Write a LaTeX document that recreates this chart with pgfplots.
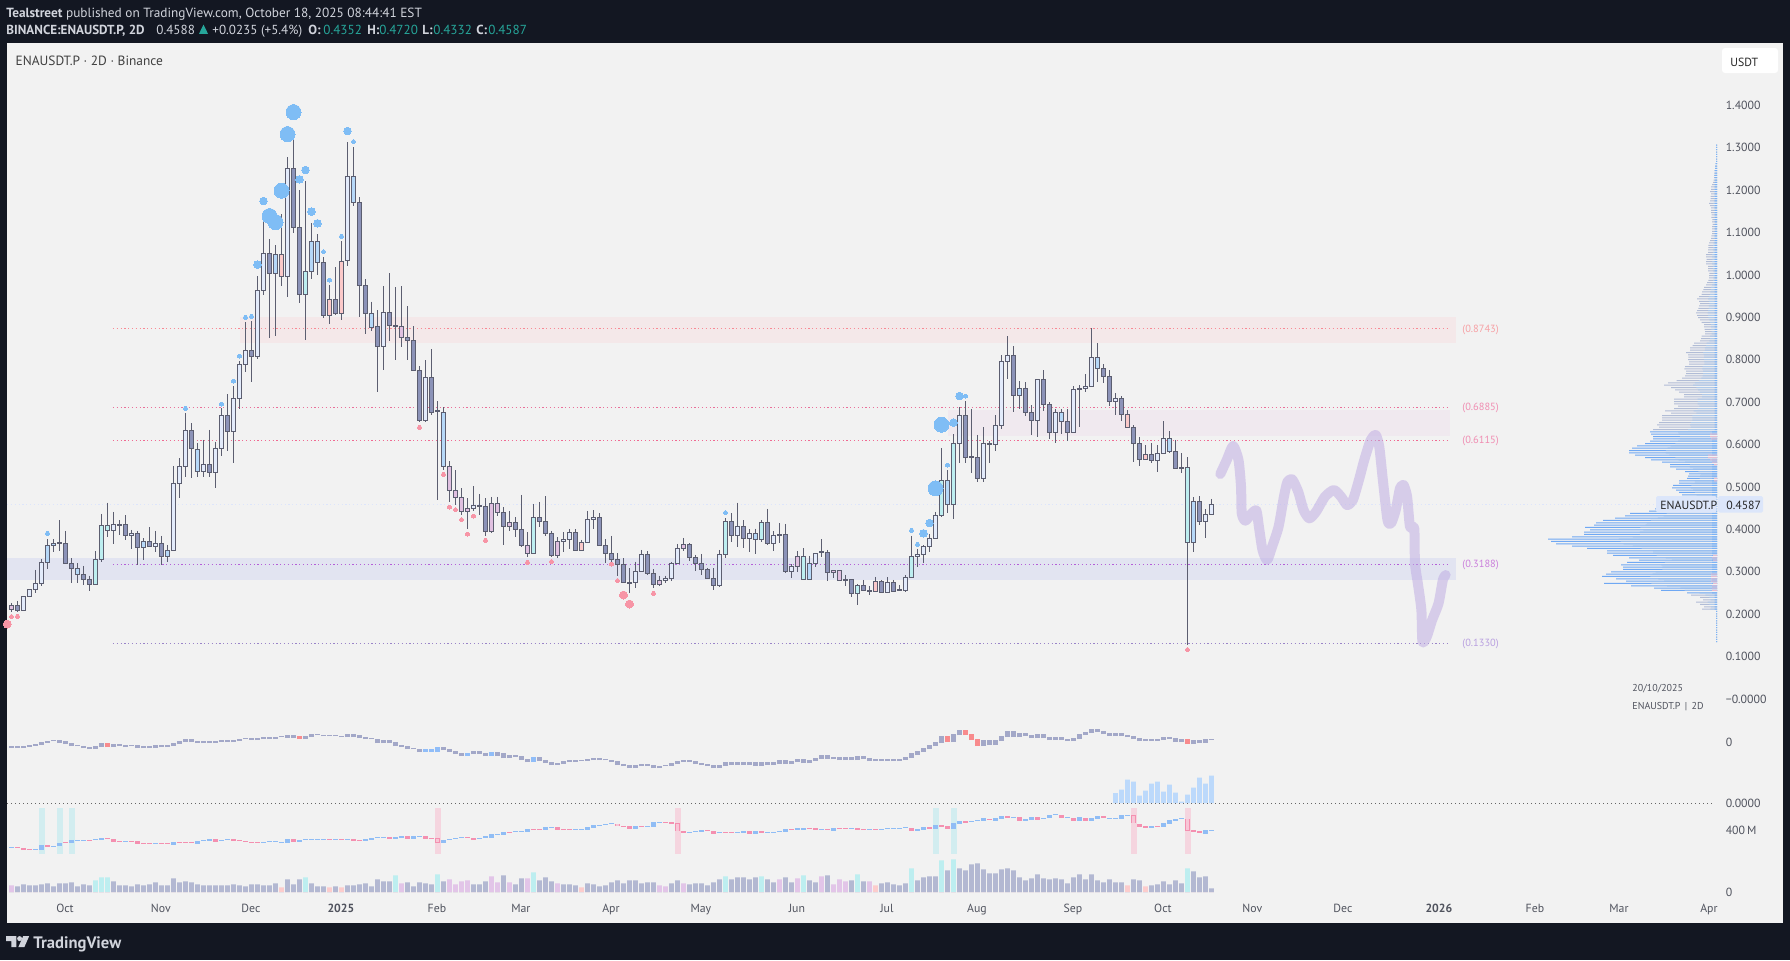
\documentclass[border=0pt]{standalone}
\usepackage{fontspec}
\setmainfont{PT Sans}
\usepackage{pgfplots}
\usepackage{pgfplotstable}
\pgfplotsset{compat=1.18}
\definecolor{bg}{HTML}{131722}
\definecolor{panel}{HTML}{F2F2F2}
\definecolor{cW}{HTML}{E3EBFB}
\definecolor{cB}{HTML}{B6D8F8}
\definecolor{cD}{HTML}{8C93B8}
\definecolor{cT}{HTML}{BDEEF0}
\definecolor{cR}{HTML}{FBC9C9}
\definecolor{cP}{HTML}{E0C0E0}
\definecolor{edge}{HTML}{5C5E70}
\definecolor{bub}{HTML}{7FBDF5}
\definecolor{pinkb}{HTML}{F795A6}
\definecolor{txt}{HTML}{50535E}
\definecolor{hdr}{HTML}{D1D4DC}
\definecolor{tealh}{HTML}{26A69A}
\definecolor{stroke}{HTML}{BCA8E2}
\definecolor{t1}{HTML}{F7A0A4}\definecolor{t2}{HTML}{F08DB2}\definecolor{t3}{HTML}{CB80DC}\definecolor{t4}{HTML}{B9A0E0}
\newcommand\fs[1]{\fontsize{#1}{#1}\selectfont}
\newcommand\tx[5]{\node[anchor=base west,inner sep=0pt,text=#3,font=#4] at ({#1*0.5pt},{-#2*0.5pt}) {#5};}
\pgfplotsset{
 pane/.style={scale only axis,width=855pt,xmin=-0.75,xmax=284.25,clip=true,
   axis line style={draw=none},major tick length=0pt,xtick=\empty,
   ytick pos=right,yticklabel pos=right,
   yticklabel style={anchor=west,inner sep=0pt,xshift=4.2pt,font=\fs{5.9},text=txt},
   every axis plot/.append style={forget plot}},
 wick/.style={draw=edge,line width=0.55pt,no markers},
 body/.style={draw=edge,line width=0.65pt,no markers},
 lev/.style={line width=0.55pt,no markers,dash pattern=on 0.6pt off 1.3pt},
 bubs/.style={only marks,color=bub,mark=*,mark size=#1,mark options={fill=bub,draw=bub,line width=0pt}},
 bubp/.style={only marks,color=pinkb,mark=*,mark size=#1,mark options={fill=pinkb,draw=pinkb,line width=0pt}},
}
\pgfplotstableread{
i o h l c k
0 .2202 .2265 .2061 .2108 P
1 .2202 .2312 .2053 .2084 D
2 .2084 .2423 .2069 .2423 W
3 .2423 .2588 .2423 .2588 W
4 .2588 .3043 .2509 .2721 W
5 .2721 .3303 .2666 .3224 W
6 .3224 .3774 .3067 .3625 B
7 .3617 .3774 .3476 .3672 B
8 .3696 .4222 .3499 .3680 D
9 .3672 .3963 .3201 .3201 D
10 .3201 .3319 .2737 .3083 D
11 .2941 .3201 .2737 .3083 B
12 .2941 .3138 .2690 .2823 D
13 .2823 .2910 .2548 .2705 D
14 .2705 .3491 .2705 .3295 T
15 .3295 .4364 .3240 .4097 T
16 .3971 .4631 .3829 .4097 T
17 .3979 .4411 .3657 .4120 W
18 .4120 .4222 .3869 .4105 D
19 .4120 .4340 .3751 .3861 D
20 .3853 .3987 .3546 .3908 W
21 .3908 .3963 .3161 .3578 D
22 .3578 .3790 .3279 .3719 B
23 .3719 .4049 .3578 .3601 D
24 .3601 .3963 .3476 .3672 W
25 .3672 .3845 .3161 .3366 D
26 .3366 .3633 .3240 .3507 B
27 .3507 .5488 .3507 .5087 W
28 .5087 .5677 .4741 .5488 W
29 .5488 .6738 .5244 .6337 W
30 .6337 .6502 .5221 .5912 D
31 .5370 .6030 .5244 .5889 B
32 .5370 .6109 .5244 .5535 W
33 .5535 .6345 .5244 .5346 D
34 .5346 .6070 .4977 .5912 W
35 .5912 .6856 .5739 .6690 W
36 .6690 .7186 .5857 .6313 D
37 .6313 .7374 .5574 .7091 W
38 .7091 .7972 .6848 .7893 W
39 .7893 .8883 .7720 .8223 W
40 .8223 .8915 .7484 .8082 D
41 .8074 .9976 .8027 .9630 W
42 .9630 1.1485 .9536 1.0510 W
43 1.0510 1.0848 .8522 1.0039 D
44 1.0039 1.0707 .8561 1.0487 B
45 1.0487 1.1430 .9748 .9968 R
46 .9968 1.2774 .9489 1.2515 W
47 1.2515 1.3301 1.0998 1.1123 D
48 1.1123 1.2004 .9347 .9544 D
49 .9544 1.2216 .8467 1.0086 T
50 1.0086 1.1218 .9913 1.0793 B
51 1.0298 1.0966 1.0007 1.0793 B
52 1.0298 1.0424 .8993 .9048 D
53 .9426 .9764 .8844 .9048 R
54 .9426 1.0188 .9056 .9088 D
55 1.0322 1.0801 .8946 .9088 R
56 1.0345 1.3128 1.0212 1.2326 W
57 1.1713 1.3018 1.1634 1.2326 B
58 1.1713 1.1831 .9017 .9748 D
59 .9756 .9905 .8608 .9096 D
60 .8765 .9371 .8687 .9096 B
61 .8789 .9174 .7249 .8317 D
62 .8317 .9740 .7759 .9119 W
63 .9119 1.0039 .8443 .8813 D
64 .8813 .9709 .7995 .8781 D
65 .8789 .9740 .8310 .8530 P
66 .8530 .9269 .7995 .8459 D
67 .8459 .8797 .7752 .7752 D
68 .7752 .7854 .6525 .6573 D
69 .6573 .7995 .6541 .7587 W
70 .7587 .8247 .6706 .6753 D
71 .6793 .7028 .4694 .6777 D
72 .5488 .6879 .5401 .6761 B
73 .5488 .5606 .4647 .4922 P
74 .4922 .5401 .4584 .4757 P
75 .4757 .4971 .4340 .4419 P
76 .4498 .4741 .4018 .4419 P
77 .4490 .5024 .4427 .4568 W
78 .4568 .4835 .4348 .4553 D
79 .4545 .4733 .3845 .3955 D
80 .4615 .4765 .3924 .3955 P
81 .4615 .4765 .4325 .4403 P
82 .4403 .4521 .3633 .4073 D
83 .4167 .4435 .3971 .4073 P
84 .4167 .4285 .3829 .4002 D
85 .4002 .4812 .3594 .3625 D
86 .3625 .3939 .3358 .3436 P
87 .3436 .4600 .3436 .4285 T
88 .4285 .4647 .4065 .4191 D
89 .4191 .4788 .3845 .3908 D
90 .3908 .3963 .3342 .3381 D
91 .3719 .3814 .3326 .3381 P
92 .3719 .3932 .3476 .3767 W
93 .3767 .4010 .3531 .3932 W
94 .3932 .4002 .3499 .3507 D
95 .3696 .3751 .3499 .3507 R
96 .3696 .4435 .3696 .4238 W
97 .4238 .4458 .4018 .4285 W
98 .4285 .4380 .3609 .3625 D
99 .3625 .3774 .3201 .3436 D
100 .3436 .3845 .3201 .3295 D
101 .3295 .3436 .2902 .3177 D
102 .3177 .3319 .2729 .2745 D
103 .2753 .3083 .2509 .2737 D
104 .2745 .3240 .2619 .3012 W
105 .3012 .3515 .3004 .3413 W
106 .3413 .3484 .2933 .2957 D
107 .2957 .3059 .2619 .2705 D
108 .2800 .2910 .2666 .2705 P
109 .2800 .2910 .2745 .2839 W
110 .2839 .3232 .2792 .3201 W
111 .3201 .3657 .3201 .3554 W
112 .3649 .3798 .3499 .3554 P
113 .3649 .3672 .3263 .3342 D
114 .3342 .3397 .3028 .3201 D
115 .3201 .3421 .2918 .3059 D
116 .3059 .3091 .2839 .2847 D
117 .2847 .3083 .2572 .2674 D
118 .2674 .3515 .2635 .3413 W
119 .3413 .4262 .3334 .4191 T
120 .4191 .4380 .3712 .3853 D
121 .3853 .4631 .3586 .4073 W
122 .4073 .4222 .3570 .3790 D
123 .3790 .4002 .3468 .3908 W
124 .3759 .4018 .3421 .3908 B
125 .3759 .4222 .3696 .4167 T
126 .4167 .4482 .3633 .3664 D
127 .3664 .3955 .3499 .3861 W
128 .3884 .4144 .3672 .3861 D
129 .3884 .4128 .2981 .3004 D
130 .3012 .3177 .2855 .3130 W
131 .3366 .3484 .3004 .3130 P
132 .2823 .3554 .2823 .3366 T
133 .2823 .3374 .2823 .3201 B
134 .3201 .3436 .3122 .3436 W
135 .3468 .3774 .3358 .3452 D
136 .3460 .3515 .2792 .2988 D
137 .3036 .3036 .2855 .2988 P
138 .3036 .3036 .2776 .2800 P
139 .2823 .2926 .2666 .2800 D
140 .2823 .2823 .2415 .2493 D
141 .2493 .2713 .2226 .2682 T
142 .2682 .2808 .2548 .2564 D
143 .2564 .2666 .2454 .2540 D
144 .2776 .2878 .2525 .2540 R
145 .2776 .2808 .2509 .2517 D
146 .2517 .2870 .2509 .2753 W
147 .2753 .2808 .2517 .2540 D
148 .2572 .2690 .2540 .2556 D
149 .2564 .2918 .2532 .2870 W
150 .2870 .3845 .2870 .3366 T
151 .3366 .3539 .3122 .3413 W
152 .3413 .3625 .3209 .3601 W
153 .3601 .3892 .3476 .3790 W
154 .3782 .4411 .3767 .4332 W
155 .4332 .5912 .4285 .5158 T
156 .4592 .5401 .4395 .5158 B
157 .4592 .6250 .4254 .6030 T
158 .6030 .6887 .5559 .6690 W
159 .6690 .7021 .5574 .5700 D
160 .5708 .6832 .5339 .5692 D
161 .5700 .6227 .5126 .5205 D
162 .5205 .6415 .5126 .6030 W
163 .6022 .6085 .5574 .6007 D
164 .6007 .6698 .5857 .6455 W
165 .6455 .8105 .6376 .7964 W
166 .7964 .8561 .7555 .8105 W
167 .8105 .8325 .6777 .7162 D
168 .7162 .7500 .6848 .7327 B
169 .7327 .7469 .6683 .6761 D
170 .6761 .6926 .6235 .6573 D
171 .6573 .7539 .6187 .7539 W
172 .7539 .7759 .6793 .6950 D
173 .6950 .6997 .6140 .6290 D
174 .6290 .6832 .6046 .6761 W
175 .6549 .6840 .6258 .6761 B
176 .6549 .6832 .6093 .6290 D
177 .6290 .7374 .6290 .7304 W
178 .7311 .7406 .6423 .7296 D
179 .7319 .7665 .7249 .7366 W
180 .7374 .8742 .7374 .8058 W
181 .7799 .8396 .7484 .8058 B
182 .7799 .7893 .7461 .7610 D
183 .7610 .7759 .6911 .7021 D
184 .7021 .7217 .6706 .7091 W
185 .7091 .7146 .6565 .6714 D
186 .6714 .6808 .6408 .6408 R
187 .6408 .6455 .5598 .6030 D
188 .6030 .6180 .5504 .5653 D
189 .5771 .5991 .5637 .5653 R
190 .5771 .6030 .5574 .5621 D
191 .5629 .5983 .5362 .5794 W
192 .5794 .6549 .5794 .6148 W
193 .5834 .6321 .5810 .6148 B
194 .5842 .6109 .5441 .5441 D
195 .5464 .5794 .5339 .5449 D
196 .3696 .5700 .1283 .5464 T
197 .3696 .4757 .3476 .4663 B
198 .4663 .4788 .4112 .4191 D
199 .4191 .4474 .3806 .4356 W
200 .4352 .4720 .4332 .4587 W
}\cand
\pgfplotstableread{
p L
1.3066 1
1.3011 1
1.2956 1
1.2901 1
1.2846 1
1.2791 1
1.2736 1
1.2681 1
1.2626 1.3
1.2571 2
1.2516 2
1.2461 2.3
1.2406 2.7
1.2351 3
1.2296 3
1.2241 3.3
1.2186 4
1.2131 5
1.2076 6
1.2021 6
1.1966 7
1.1911 6
1.1856 6.3
1.1801 6.3
1.1746 7
1.1691 8
1.1636 7
1.1581 6
1.1526 6
1.1471 6
1.1416 5.3
1.1361 5.7
1.1306 4.7
1.1251 5
1.1196 4.3
1.1141 5
1.1086 5
1.1031 5
1.0976 5
1.0921 5.7
1.0866 6
1.0811 7
1.0756 8
1.0701 8.7
1.0646 8.7
1.0591 9
1.0536 9
1.0481 11
1.0426 11
1.0371 10.3
1.0316 11
1.0261 11
1.0206 9
1.0151 9
1.0096 9
1.0041 7.7
.9986 8
.9931 8
.9876 8.7
.9821 10
.9766 11
.9711 13
.9656 13.7
.9601 15
.9546 15.3
.9491 18
.9436 20
.9381 18
.9326 17
.9271 18
.9216 18.7
.9161 20
.9106 21
.9051 20
.8996 19
.8941 17
.8886 15.3
.8831 13
.8776 13
.8721 12.3
.8666 12
.8611 12
.8556 15.3
.8501 16
.8446 17
.8391 23
.8336 24.3
.8281 27
.8226 27
.8171 31
.8116 29
.8061 28.7
.8006 29
.7951 28
.7896 28
.7841 32
.7786 32.7
.7731 31
.7676 31
.7621 32
.7566 35
.7511 40.3
.7456 49
.7401 53
.7346 46
.7291 42
.7236 38
.7181 33
.7126 33
.7071 43
.7016 43
.6961 43
.6906 39
.6851 43
.6796 52
.6741 46
.6686 55
.6631 55
.6576 55
.6521 58
.6466 60
.6411 58
.6356 64
.2451 26
.2396 17
.2341 14
.2286 21
.2231 17
.2176 13
.2121 15
.2066 1
.2011 1
.1956 1
.1901 1
.1846 1
.1791 1
.1736 1
.1681 1
.1626 1
.1571 1
.1516 1
.1461 1
.1406 1
.1351 1
}\profU
\pgfplotstableread{
p L
.6301 67
.6246 66
.6191 64
.6136 64
.6081 67
.6026 72
.5971 80
.5916 85
.5861 88
.5806 88
.5751 82
.5696 72
.5641 66
.5586 55
.5531 47
.5476 47
.5421 41
.5366 32
.5311 28
.5256 29
.5201 30
.5146 38
.5091 38
.5036 44
.4981 45
.4926 41
.4871 38
.4816 35
.4761 35
.4706 33
.4651 40
.4596 40
.4541 40
.4486 62
.4431 68
.4376 87
.4321 92
.4266 102
.4211 114
.4156 121
.4101 123
.4046 132
.3991 127
.3936 133
.3881 133
.3826 145
.3771 169
.3716 166
.3661 161
.3606 145
.3551 130
.3496 110
.3441 110
.3386 104
.3331 88
.3276 78
.3221 90
.3166 96
.3111 94
.3056 94
.3001 106
.2946 111
.2891 115
.2836 101
.2781 91
.2726 113
.2671 86
.2616 63
.2561 56
.2506 30
}\profL
\pgfplotstableread{
i top bot k
0 -4 -6 0
1 -4 -6 0
2 -4 -6 0
3 -3.3 -5 0
4 -2 -3.7 0
5 0 -3 0
6 1 -0.7 0
7 2 1 0
8 2 -1 0
9 1 -2 0
10 -1 -4 0
11 -3 -4 0
12 -4 -6 0
13 -5 -7 0
14 -4 -7 0
15 -1 -5 0
16 -1 -5 1
17 -2 -5 0
18 -2 -4 0
19 -3 -5 0
20 -3 -4 0
21 -3 -6 0
22 -4 -6 0
23 -4 -6 0
24 -3 -6 0
25 -3 -5.3 0
26 -3 -5 0
27 -1 -4 0
28 1 -2 0
29 3 0 0
30 3 0 0
31 1 -1 0
32 1 -1 0
33 1 -1 0
34 1 -1 0
35 2 0 0
36 2 0 0
37 2 0 0
38 3 1 0
39 4 3 0
40 4 2.3 0
41 4 2 0
42 5 3 0
43 5 3 0
44 5 3 0
45 6 5 0
46 7 4.3 0
47 7.3 4.3 0
48 6 3 1
49 6 3 0
50 8 5 0
51 8 7 0
52 7 6 0
53 7 6 0
54 7 6 0
55 6 5 0
56 8 5 0
57 8 5 0
58 7 4 0
59 5 3 0
60 4 3 0
61 3 -1 0
62 2 -1 0
63 2 -1 0
64 0 -4 0
65 -3 -5 0
66 -4 -7 0
67 -6 -7 0
68 -7 -10 0
69 -7 -10 2
70 -7 -10 2
71 -5 -10 2
72 -5 -8 0
73 -7 -10 0
74 -9 -12 0
75 -11 -14 0
76 -11 -14 2
77 -9 -12 0
78 -9 -12 0
79 -11 -14 0
80 -10 -14 2
81 -10 -14 0
82 -11 -16 0
83 -13 -16 0
84 -13 -15 0
85 -14 -18 0
86 -17 -20 0
87 -15 -20 2
88 -15 -19 0
89 -18 -21 0
90 -20 -23 0
91 -21 -23 0
92 -19 -22 0
93 -18 -20 0
94 -18 -20 0
95 -18 -19 0
96 -17 -19 0
97 -16 -18 0
98 -16 -18 0
99 -17 -18 0
100 -18 -20 0
101 -19 -23 0
102 -22 -24 0
103 -23 -26 0
104 -23 -26 0
105 -22 -24 0
106 -22 -24 0
107 -23 -26 0
108 -24 -26 0
109 -23 -24 0
110 -21 -24 0
111 -19 -22 0
112 -18 -20 0
113 -18 -20 0
114 -19 -22 0
115 -21 -23 0
116 -22 -24 0
117 -23 -26 0
118 -23 -26 0
119 -20 -24 0
120 -20 -23 0
121 -20 -23 0
122 -20 -23 0
123 -20 -23 0
124 -20 -24 0
125 -20 -24 0
126 -20 -23 0
127 -20 -23 0
128 -18 -22 0
129 -18 -22 0
130 -19 -22 0
131 -17 -20 0
132 -17 -21 0
133 -18 -21 0
134 -16 -19 0
135 -13 -17 0
136 -13 -17 0
137 -15 -17 0
138 -15 -18 0
139 -15 -18 0
140 -15 -18 0
141 -14 -18 0
142 -14 -17 0
143 -16 -19 0
144 -17 -19 0
145 -17 -19 0
146 -17 -19 0
147 -17 -19 0
148 -17 -19 0
149 -15 -18 0
150 -11 -16 0
151 -9 -13 0
152 -6 -10 0
153 -3 -7 0
154 0 -4 0
155 6 -1 0
156 6 0 1
157 8 0 0
158 12 7 0
159 12 7 1
160 8 2 1
161 3 -4 1
162 2 -4 0
163 2 -3 0
164 2 -3 0
165 6 1 0
166 11 5 0
167 11 5 0
168 9 5 0
169 9 6 0
170 7 4 0
171 8 4 0
172 8 4 0
173 5 2 0
174 5 2 0
175 5 2 0
176 3 1 0
177 4 1 0
178 8 3 0
179 10 7 0
180 13 9 0
181 13 10 0
182 11 8 0
183 9 6 0
184 9 6 0
185 9 6 0
186 7 5 0
187 6 3 0
188 4 1 0
189 3 1 0
190 3 1 0
191 3 1 0
192 5 2 0
193 5 3 0
194 4 0 0
195 3 0 0
196 3 -2 1
197 2 -2 0
198 2 -1 0
199 3 -1 0
200 3 2 0
}\osc
\pgfplotstableread{
i v h k
0 -7.3 .5 0
1 -7.3 .5 1
2 -8.7 .6 1
3 -9 .5 1
4 -9 .5 0
5 -7.3 2.3 0
6 -5.7 .8 1
7 -6.3 .5 0
8 -4.7 1.7 0
9 -2.3 .5 1
10 -1.3 1.3 0
11 -.3 .5 0
12 -.3 .5 0
13 -.3 .5 1
14 .7 .8 0
15 1.3 .8 0
16 1.7 .8 1
17 -.3 1.2 1
18 -1.3 .5 1
19 -1.3 .5 0
20 -1.3 .5 1
21 -2.3 1.2 1
22 -3.3 .5 1
23 -3.3 .5 1
24 -3.3 .5 0
25 -3.3 .5 1
26 -3.3 .5 1
27 -3.3 1.3 0
28 -2.3 .5 1
29 -2.3 .5 1
30 -2.3 .5 1
31 -2.3 1.3 0
32 -.3 .5 0
33 .3 .5 0
34 -.3 1.2 1
35 -.3 .5 0
36 .7 .8 0
37 .3 .8 1
38 -.3 .5 1
39 -1.3 .5 1
40 -2.3 .5 1
41 -2.3 .5 1
42 -2.3 .5 0
43 -1.3 .5 0
44 -1.3 .5 0
45 -2.3 .5 0
46 -.7 2 0
47 -.3 1.2 1
48 -.7 1 0
49 .7 .5 0
50 .7 .5 0
51 .7 .5 0
52 .7 .5 0
53 .7 .5 1
54 .7 .5 0
55 .7 .5 1
56 .7 .5 0
57 0 .7 1
58 -.3 .5 1
59 .3 1 0
60 1.3 .8 0
61 2.7 .5 0
62 2.7 .5 0
63 2.3 .8 1
64 2.3 .5 0
65 3 .8 0
66 2.7 1.2 1
67 2.7 1.3 0
68 3.7 .5 0
69 2.7 1.2 1
70 1.7 .5 1
71 -.3 2.3 1
72 -1.3 1.3 0
73 .7 .5 0
74 1.7 .5 0
75 2.7 .5 0
76 2.7 .5 1
77 1.3 1 1
78 1.7 .5 0
79 2.7 1 0
80 4.3 2 0
81 5.7 .5 0
82 6.7 1.5 0
83 7.7 .5 1
84 8.7 .5 0
85 8.7 .5 0
86 9.7 1.3 0
87 10.7 .5 1
88 10.7 .5 1
89 11.7 1.3 0
90 12.7 .5 0
91 11.7 1.2 1
92 10.7 .5 1
93 10.7 .5 1
94 10.7 .5 0
95 10.7 .5 0
96 11.7 1.3 0
97 13.7 1.3 0
98 14.7 .5 0
99 15.7 .5 0
100 16.7 .5 0
101 15 1.3 1
102 13.7 .5 1
103 12.7 1.2 1
104 12.7 1.7 0
105 13.7 .5 1
106 13.7 .5 0
107 15.7 2.3 0
108 17.7 .5 0
109 17.7 .5 1
110 17.3 1 1
111 12.7 4 1
112 8 .8 1
113 7.7 .5 0
114 8.7 .5 0
115 9.3 1 0
116 9.7 .5 1
117 7.7 1.2 1
118 7.7 .5 0
119 7.7 .5 1
120 7.7 .5 1
121 7.7 .5 0
122 8.3 .5 0
123 7.7 1.2 1
124 7.7 1.5 0
125 8 .8 1
126 7.7 .5 0
127 7.7 .5 0
128 8.7 .5 0
129 9.7 1.3 0
130 10.7 .5 1
131 11.3 .5 0
132 11.3 .5 0
133 11.7 .5 1
134 11 .8 1
135 10.7 .5 0
136 10.7 .5 1
137 10.7 1.3 0
138 11.7 .5 1
139 11.7 .5 1
140 11.7 .5 0
141 11.3 1.2 1
142 10.7 .5 1
143 10.7 .5 0
144 10.7 .5 1
145 10.7 .5 0
146 11.7 .5 0
147 11.7 .5 0
148 11.7 .5 0
149 12.7 .5 0
150 11 1.5 1
151 10.3 .8 0
152 11.7 1.5 0
153 12.3 .8 1
154 13 1.8 0
155 14.3 .8 1
156 12.7 1.3 1
157 13.7 3 0
158 17.7 1.5 0
159 18.3 .8 1
160 18.7 .5 0
161 19.7 .5 0
162 20.7 1.2 0
163 20.7 .5 1
164 20.7 1.5 0
165 22.7 1.5 0
166 23 .8 1
167 22.7 .5 0
168 21 1.7 1
169 20.3 .8 0
170 21.7 1.5 0
171 21.7 1.2 1
172 21.7 .8 0
173 23.7 1.3 0
174 25.7 .5 0
175 24 1.5 1
176 22.7 .5 0
177 21 1.5 1
178 21 1.8 0
179 21 1.5 1
180 20.7 1.5 0
181 22.7 1.3 0
182 23 1.3 1
183 21.7 .5 0
184 21.7 .5 0
185 23 1.8 0
186 24.7 .5 0
187 20.7 4 1
188 15 1.5 1
189 13.3 .8 1
190 13.3 .8 0
191 14 .5 1
192 15 1.8 0
193 18 1.8 0
194 20 1 0
195 21.7 .5 0
196 15.3 6 1
197 9.3 .8 1
198 7.7 1 1
199 8 1.8 0
200 9.7 .5 0
}\rsi
\pgfplotstableread{
i v k
0 43 2
1 37 0
2 50 0
3 43 0
4 43 0
5 50 0
6 56 0
7 37 0
8 56 0
9 56 0
10 63 0
11 37 0
12 50 0
13 43 0
14 76 1
15 95 1
16 95 1
17 69 0
18 43 0
19 43 0
20 37 0
21 50 0
22 43 0
23 50 0
24 63 0
25 43 0
26 43 0
27 89 0
28 63 0
29 69 0
30 63 0
31 50 0
32 43 0
33 43 0
34 43 0
35 43 0
36 43 0
37 50 0
38 43 0
39 37 0
40 50 0
41 50 0
42 43 0
43 43 0
44 56 0
45 30 3
46 82 0
47 50 0
48 82 0
49 95 1
50 56 0
51 37 0
52 37 0
53 30 3
54 37 0
55 30 3
56 43 0
57 43 0
58 50 0
59 56 0
60 37 0
61 82 0
62 69 0
63 69 0
64 108 1
65 56 2
66 63 0
67 37 0
68 63 0
69 56 0
70 50 0
71 114 1
72 69 0
73 82 2
74 50 2
75 69 2
76 76 2
77 50 0
78 50 0
79 69 0
80 102 2
81 63 2
82 108 0
83 63 2
84 50 0
85 89 0
86 89 2
87 127 1
88 76 0
89 95 0
90 69 0
91 56 2
92 50 0
93 50 0
94 43 0
95 30 3
96 56 0
97 50 0
98 37 0
99 43 0
100 63 0
101 76 0
102 56 0
103 76 0
104 76 0
105 56 0
106 63 0
107 63 0
108 43 2
109 37 2
110 56 0
111 76 0
112 56 2
113 50 0
114 56 0
115 56 0
116 43 0
117 63 0
118 82 0
119 102 1
120 82 0
121 95 0
122 95 0
123 82 0
124 95 0
125 102 1
126 82 0
127 63 0
128 82 2
129 95 0
130 63 0
131 89 2
132 108 1
133 76 0
134 63 0
135 102 2
136 108 0
137 50 2
138 82 2
139 69 2
140 76 0
141 114 1
142 69 0
143 69 2
144 43 3
145 56 0
146 63 0
147 50 0
148 43 0
149 56 0
150 153 1
151 76 0
152 95 0
153 102 0
154 102 0
155 205 1
156 140 0
157 212 1
158 153 0
159 140 0
160 179 0
161 186 0
162 147 0
163 121 0
164 121 0
165 147 0
166 153 0
167 140 0
168 95 0
169 76 0
170 89 0
171 114 0
172 89 0
173 82 0
174 89 0
175 82 0
176 56 0
177 95 0
178 114 0
179 82 0
180 114 0
181 76 0
182 63 0
183 82 0
184 63 0
185 63 0
186 43 3
187 82 0
188 76 0
189 37 3
190 43 0
191 50 0
192 69 0
193 50 0
194 76 0
195 56 0
196 153 1
197 134 0
198 95 0
199 102 0
200 24 0
}\vol
\begin{document}
\begin{tikzpicture}
\fill[bg] (0pt,0pt) rectangle (895pt,-480pt);
\fill[panel] (3.5pt,-21.5pt) rectangle (891.5pt,-461.5pt);
% header
\tx{6}{17}{hdr}{\fs{6.65}}{\textbf{Tealstreet} published on TradingView.com, October 18, 2025 08:44:41 EST}
\tx{6}{34}{hdr}{\fs{6.55}}{\textbf{BINANCE:ENAUSDT.P, 2D}}
\tx{156}{34}{hdr}{\fs{6.55}}{0.4588}
\fill[tealh] (99.5pt,-16.9pt) -- (104pt,-16.9pt) -- (101.75pt,-12.3pt) -- cycle;
\tx{212}{34}{hdr}{\fs{6.55}}{+0.0235 (+5.4\%)}
\tx{308}{34}{hdr}{\fs{6.55}}{\textbf{O:}}
\tx{323}{34}{tealh}{\fs{6.55}}{0.4352}
\tx{367}{34}{hdr}{\fs{6.55}}{\textbf{H:}}
\tx{379}{34}{tealh}{\fs{6.55}}{0.4720}
\tx{422}{34}{hdr}{\fs{6.55}}{\textbf{L:}}
\tx{433}{34}{tealh}{\fs{6.55}}{0.4332}
\tx{476}{34}{hdr}{\fs{6.55}}{\textbf{C:}}
\tx{488}{34}{tealh}{\fs{6.55}}{0.4587}
% main price axis (bands, levels, candles, marks)
\begin{axis}[pane,at={(3.5pt,-21.5pt)},anchor=north west,height=338.5pt,
  ymin=-0.0495,ymax=1.5472,
  ytick={0,0.1,0.2,0.3,0.4,0.5,0.6,0.7,0.8,0.9,1.0,1.1,1.2,1.3,1.4},
  yticklabels={−0.0000,0.1000,0.2000,0.3000,0.4000,0.5000,0.6000,0.7000,0.8000,0.9000,1.0000,1.1000,1.2000,1.3000,1.4000}]
\definecolor{z1}{HTML}{F4E8E9}\definecolor{z2}{HTML}{F0E9EF}\definecolor{z3}{HTML}{E2E4F1}
\addplot[fill=z1,draw=none] coordinates {(38.1,.9009)(240.75,.9009)(240.75,.8404)(38.1,.8404)} -- cycle;
\addplot[fill=z2,draw=none] coordinates {(156.1,.6816)(239.75,.6816)(239.75,.6203)(156.1,.6203)} -- cycle;
\addplot[fill=z3,draw=none] coordinates {(-2,.3325)(240.75,.3325)(240.75,.2807)(-2,.2807)} -- cycle;
\definecolor{l1}{HTML}{F88A95}\definecolor{l2}{HTML}{E9709A}\definecolor{l3}{HTML}{F06A92}\definecolor{l4}{HTML}{B45FD8}\definecolor{l5}{HTML}{9A84C8}\definecolor{l6}{HTML}{DDE5FB}
\addplot[lev,l6] coordinates {(-2,.4587)(274.1,.4587)};
\addplot[lev,l1] coordinates {(16.9,.8743)(239.6,.8743)};
\addplot[lev,l2] coordinates {(16.9,.6885)(239.6,.6885)};
\addplot[lev,l3] coordinates {(16.9,.6105)(239.6,.6105)};
\addplot[lev,l4] coordinates {(16.9,.3180)(239.6,.3180)};
\addplot[lev,l5] coordinates {(16.9,.1320)(239.6,.1320)};
\pgfplotsforeachungrouped \n in {0,...,200}{%
  \pgfplotstablegetelem{\n}{i}\of\cand\edef\vI{\pgfplotsretval}%
  \pgfplotstablegetelem{\n}{o}\of\cand\edef\vO{\pgfplotsretval}%
  \pgfplotstablegetelem{\n}{h}\of\cand\edef\vH{\pgfplotsretval}%
  \pgfplotstablegetelem{\n}{l}\of\cand\edef\vL{\pgfplotsretval}%
  \pgfplotstablegetelem{\n}{c}\of\cand\edef\vC{\pgfplotsretval}%
  \pgfplotstablegetelem{\n}{k}\of\cand\edef\vK{\pgfplotsretval}%
  \pgfmathsetmacro\xa{\vI-0.33}\pgfmathsetmacro\xb{\vI+0.33}%
  \edef\temp{\noexpand\addplot[wick] coordinates {(\vI,\vH)(\vI,\vL)};
    \noexpand\addplot[body,fill=c\vK] coordinates {(\xa,\vO)(\xb,\vO)(\xb,\vC)(\xa,\vC)} -- cycle;}%
  \temp
}
% blue marks
\addplot[bubs=3.75pt] coordinates {(47,1.3844)(46,1.3325)(45,1.1989)(44,1.125)(43,1.1392)(155,.647)(154,.4969)};
\addplot[bubs=1.9pt] coordinates {(42,1.1745)(41,1.0244)(49,1.2476)(48,1.2256)(50,1.1494)(51,1.1219)(56,1.3396)(158,.7146)(157,.6517)(153,.415)(152,.3907)};
\addplot[bubs=1pt] coordinates {(52,1.055)(53,.9882)(55,1.0912)(57,1.3145)(39,.9002)(40,.9025)(38,.809)(37,.75)(35,.6958)(29,.6855)(6,.3907)(159,.7146)(156,.5519)(151,.3647)(150,.3978)(119,.4395)};
% pink marks
\addplot[bubp=2pt] coordinates {(-0.7,.1769)(102,.2453)(103,.2241)};
\addplot[bubp=1pt] coordinates {(0,.1942)(1,.195)(68,.6407)(72,.5299)(73,.4528)(74,.4465)(75,.423)(76,.3892)(77,.4316)(79,.3742)(86,.3223)(90,.3239)(100,.3184)(101,.2791)(107,.2492)(196,.1164)};
% forecast stroke
\addplot[draw=stroke,opacity=0.5,line width=5pt,line cap=round,line join=round,smooth,tension=0.4,no markers] coordinates {
(201.47,.5307)(202.54,.5637)(203.6,.5967)(204.5,.5637)(204.92,.5008)(205.04,.4379)(205.64,.4206)(206.71,.4379)(207.49,.4442)(207.9,.4064)(208.5,.3514)(209.27,.3278)(210.1,.3593)(211.18,.4064)(212.07,.4772)(212.66,.5126)(213.44,.5181)(214.45,.489)(215.34,.4458)(216.3,.4261)(217.43,.4418)(218.91,.4772)(220.4,.4929)(221.59,.4772)(222.6,.4575)(223.56,.4693)(224.57,.5165)(225.46,.5637)(226.53,.6108)(227.37,.6226)(227.96,.5951)(228.56,.5165)(229.33,.4222)(229.93,.4143)(230.7,.4458)(231.41,.4969)(232.01,.5047)(232.6,.4772)(233.08,.4064)(233.79,.4025)(233.91,.32)(234.39,.2728)(234.98,.2099)(235.16,.1352)(235.88,.147)(236.77,.1863)(237.84,.2256)(238.56,.2807)(239.03,.2925)};
\end{axis}
% volume profile
\begin{axis}[scale only axis,at={(608.5pt,-21.5pt)},anchor=north west,width=250pt,height=338.5pt,
  xmin=-500,xmax=0,ymin=-0.0495,ymax=1.5472,hide axis,
  every axis plot/.append style={forget plot,xbar,bar shift=0pt,bar width=0.5pt,draw=none}]
\definecolor{p1}{HTML}{B1BCD6}\definecolor{p2}{HTML}{AEC9EA}\definecolor{p3}{HTML}{7AB2F6}
\definecolor{p4}{HTML}{6FA8F3}\definecolor{p5}{HTML}{98BEEF}\definecolor{p6}{HTML}{E6BCD0}
\addplot[fill=p1] table[x expr={-\thisrow{L}},y=p]{\profU};
\addplot[fill=p2] table[x expr={-0.45*\thisrow{L}},y=p]{\profU};
\addplot[fill=p3] table[x expr={-min(\thisrow{L},2.5)},y=p]{\profU};
\addplot[fill=p4] table[x expr={-\thisrow{L}},y=p]{\profL};
\addplot[fill=p5] table[x expr={-0.58*\thisrow{L}},y=p]{\profL};
\addplot[fill=p3] table[x expr={-min(\thisrow{L},5)},y=p]{\profL};
\addplot[fill=p6] coordinates {(-7,.6246)(-7,.6191)(-6,.6136)(-9,.5696)(-9,.5751)(-7,.5641)(-5,.5586)(-3,.5531)(-3,.5201)(-3,.5146)(-4,.3386)(-5,.3331)(-4,.3276)(-6,.2946)(-6,.2891)(-6,.2836)(-6,.2781)(-4,.2726)(-5,.2671)(-5,.2616)(-5,.2561)};
\end{axis}
% top oscillator
\definecolor{o0}{HTML}{A3A8C8}\definecolor{o1}{HTML}{F88B8D}\definecolor{o2}{HTML}{90BDF8}
\begin{axis}[pane,at={(3.5pt,-362.5pt)},anchor=north west,height=37.5pt,ymin=-58,ymax=17,ytick={0},yticklabels={0}]
\addplot[draw=none,no markers,error bars/.cd,y dir=plus,y explicit,error mark=none,error bar style={line width=2.4pt,draw=o0}] table[x=i,y=bot,y error plus expr={\thisrow{k}==0 ? \thisrow{top}-\thisrow{bot} : 0}]{\osc};
\addplot[draw=none,no markers,error bars/.cd,y dir=plus,y explicit,error mark=none,error bar style={line width=2.4pt,draw=o1}] table[x=i,y=bot,y error plus expr={\thisrow{k}==1 ? \thisrow{top}-\thisrow{bot} : 0}]{\osc};
\addplot[draw=none,no markers,error bars/.cd,y dir=plus,y explicit,error mark=none,error bar style={line width=2.4pt,draw=o2}] table[x=i,y=bot,y error plus expr={\thisrow{k}==2 ? \thisrow{top}-\thisrow{bot} : 0}]{\osc};
\end{axis}
% histogram pane
\begin{axis}[pane,at={(3.5pt,-380pt)},anchor=north west,height=23pt,ymin=-3,ymax=43,ytick={0},yticklabels={0.0000}]
\definecolor{hb}{HTML}{BCD9FB}
\addplot[ybar,bar shift=0pt,bar width=2.4pt,fill=hb,draw=none] coordinates {(184,10)(185,13.3)(186,23.3)(187,21.3)(188,7.3)(189,12.3)(190,19.3)(191,21.3)(192,11.3)(193,18.3)(194,10.3)(195,1.3)(196,8.3)(197,15.3)(198,25.3)(199,19.3)(200,27.3)};
\addplot[no markers,draw=black!60!white,line width=0.5pt,dash pattern=on 0.6pt off 1.4pt] coordinates {(-0.75,0)(283.7,0)};
\end{axis}
% mini-candle pane with signal bands
\begin{axis}[pane,at={(3.5pt,-402.5pt)},anchor=north west,height=27.5pt,ymin=-20,ymax=35,ytick=\empty]
\definecolor{bt}{HTML}{D2EDF0}\definecolor{bp}{HTML}{F5D5DF}\definecolor{rb}{HTML}{90BDF5}\definecolor{rp}{HTML}{F490B0}\definecolor{rh}{HTML}{F7C6D6}
\addplot[fill=bt,draw=none] coordinates {(4.5,32)(5.5,32)(5.5,-14)(4.5,-14)} -- cycle;
\addplot[fill=bt,draw=none] coordinates {(7.5,32)(8.5,32)(8.5,-14)(7.5,-14)} -- cycle;
\addplot[fill=bt,draw=none] coordinates {(9.5,32)(10.5,32)(10.5,-14)(9.5,-14)} -- cycle;
\addplot[fill=bp,draw=none] coordinates {(70.5,32)(71.5,32)(71.5,-14)(70.5,-14)} -- cycle;
\addplot[fill=bp,draw=none] coordinates {(110.5,32)(111.5,32)(111.5,-14)(110.5,-14)} -- cycle;
\addplot[fill=bt,draw=none] coordinates {(153.5,32)(154.5,32)(154.5,-14)(153.5,-14)} -- cycle;
\addplot[fill=bt,draw=none] coordinates {(156.5,32)(157.5,32)(157.5,-14)(156.5,-14)} -- cycle;
\addplot[fill=bp,draw=none] coordinates {(186.5,32)(187.5,32)(187.5,-14)(186.5,-14)} -- cycle;
\addplot[fill=bp,draw=none] coordinates {(195.5,32)(196.5,32)(196.5,-14)(195.5,-14)} -- cycle;
\addplot[draw=none,no markers,error bars/.cd,y dir=both,y explicit,error mark=none,error bar style={line width=2.4pt,draw=rb}] table[x=i,y=v,y error expr={\thisrow{k}==0 ? \thisrow{h} : 0}]{\rsi};
\addplot[draw=none,no markers,error bars/.cd,y dir=both,y explicit,error mark=none,error bar style={line width=2.4pt,draw=rp}] table[x=i,y=v,y error expr={\thisrow{k}==1 ? \thisrow{h} : 0}]{\rsi};
\addplot[draw=none,no markers,error bars/.cd,y dir=both,y explicit,error mark=none,error bar style={line width=1.2pt,draw=rh}] table[x=i,y=v,y error=h]{
i v h
71 -.3 1.7
101 15 .7
111 12.7 3.4
187 20.7 3.4
196 15.3 5.4
};
\end{axis}
% volume pane
\definecolor{v0}{HTML}{B3B8D2}\definecolor{v1}{HTML}{BDEEF0}\definecolor{v2}{HTML}{E2C5E8}\definecolor{v3}{HTML}{FCCCCC}
\begin{axis}[pane,at={(3.5pt,-446pt)},anchor=south west,height=43.5pt,ymin=0,ymax=564,
  ytick={0,400},yticklabels={0,400\,M},
  xtick={8.92,24.9,39.9,54.9,70.9,84.9,99.9,114.9,130.9,145.9,160.9,176.9,191.9,206.8,221.9,237.9,253.9,267.9,282.9},
  xticklabels={Oct,Nov,Dec,\textbf{2025},Feb,Mar,Apr,May,Jun,Jul,Aug,Sep,Oct,Nov,Dec,\textbf{2026},Feb,Mar,Apr},
  xticklabel style={font=\fs{5.9},text=txt,inner sep=0pt,anchor=base,yshift=-10.2pt}]
\addplot[ybar,bar shift=0pt,bar width=2.4pt,fill=v0,draw=none] table[x=i,y expr={\thisrow{k}==0 ? \thisrow{v} : 0}]{\vol};
\addplot[ybar,bar shift=0pt,bar width=2.4pt,fill=v1,draw=none] table[x=i,y expr={\thisrow{k}==1 ? \thisrow{v} : 0}]{\vol};
\addplot[ybar,bar shift=0pt,bar width=2.4pt,fill=v2,draw=none] table[x=i,y expr={\thisrow{k}==2 ? \thisrow{v} : 0}]{\vol};
\addplot[ybar,bar shift=0pt,bar width=2.4pt,fill=v3,draw=none] table[x=i,y expr={\thisrow{k}==3 ? \thisrow{v} : 0}]{\vol};
\end{axis}
% level labels
\tx{1462}{332}{t1}{\fs{5.2}}{(0.8743)}
\tx{1462}{410.7}{t2}{\fs{5.2}}{(0.6885)}
\tx{1462}{443.7}{t2}{\fs{5.2}}{(0.6115)}
\tx{1462}{567}{t3}{\fs{5.2}}{(0.3188)}
\tx{1462}{646.7}{t4}{\fs{5.2}}{(0.1330)}
% chrome
\tx{15.3}{65}{black!75!white}{\fs{6.7}}{ENAUSDT.P · 2D · Binance}
\fill[white,rounded corners=1.5pt] (861pt,-24pt) rectangle (889pt,-36.5pt);
\tx{1730}{66.5}{black!85!white}{\fs{5.9}}{USDT}
\definecolor{lb}{HTML}{DCE6FA}
\fill[lb,rounded corners=0.8pt] (828pt,-248pt) rectangle (858.3pt,-256.3pt);
\fill[lb,rounded corners=0.8pt] (859pt,-248pt) rectangle (881.5pt,-256.3pt);
\tx{1660}{509}{black!85!white}{\fs{5.9}}{ENAUSDT.P}
\tx{1726}{509}{black!85!white}{\fs{5.9}}{0.4587}
\tx{1632}{691}{txt}{\fs{5}}{20/10/2025}
\tx{1632}{709}{txt}{\fs{5}}{ENAUSDT.P \,|\, 2D}
% logo
\fill[hdr] (3pt,-468pt) -- (8.2pt,-468pt) -- (8.2pt,-473.5pt) -- (5.7pt,-473.5pt) -- (5.7pt,-470.6pt) -- (3pt,-470.6pt) -- cycle;
\fill[hdr] (9.8pt,-469.3pt) circle (1.25pt);
\fill[hdr] (11.6pt,-468pt) -- (14.6pt,-468pt) -- (12.2pt,-473.5pt) -- (9.2pt,-473.5pt) -- cycle;
\tx{33}{948}{hdr}{\fs{8.3}}{\textbf{TradingView}}
\end{tikzpicture}
\end{document}
